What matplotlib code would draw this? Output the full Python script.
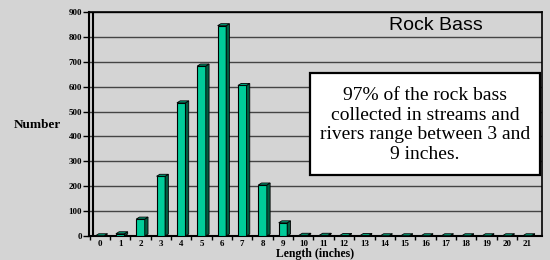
import matplotlib.pyplot as plt
from matplotlib.patches import Polygon, Rectangle

# lengths in inches and number of rock bass caught
lengths = list(range(22))
counts = [1, 9, 68, 240, 535, 683, 845, 605, 205, 53, 3, 3, 2, 2, 1, 1, 1, 1, 1, 1, 1, 1]
y_ticks = list(range(0, 1000, 100))
note_lines = ["97% of the rock bass", "collected in streams and",
              "rivers range between 3 and", "9 inches."]

BG = "#d4d4d4"
FACE = "#00cc99"
SIDE = "#005c40"
TOP = "#00a078"

fig = plt.figure(figsize=(5.5, 2.6), dpi=100, facecolor=BG)
ax = fig.add_axes([89 / 550, 24 / 260, 453 / 550, 224 / 260])
ax.set_facecolor(BG)
ax.set_xlim(-0.53, 21.73)
ax.set_ylim(0, 900)

# gridlines
for y in y_ticks[1:]:
    ax.axhline(y, color="#444444" if y < 900 else "#111111", lw=1.0, zorder=1)

w = 0.42
dx, dy = 0.16, 8
ax.bar(lengths, counts, width=w, color=FACE, edgecolor="black", lw=0.8, zorder=3)
for x, c in zip(lengths, counts):
    if c <= 0:
        continue
    r = x + w / 2
    l = x - w / 2
    side = Polygon([(r, 0), (r + dx, dy), (r + dx, c + dy), (r, c)],
                   closed=True, fc=SIDE, ec="black", lw=0.6, zorder=3)
    top = Polygon([(l, c), (l + dx, c + dy), (r + dx, c + dy), (r, c)],
                  closed=True, fc=TOP, ec="black", lw=0.6, zorder=3)
    ax.add_patch(side)
    ax.add_patch(top)

# left wall (double line)
ax.axvline(-0.33, color="black", lw=1.5, zorder=4)
for s in ["left", "right", "top", "bottom"]:
    ax.spines[s].set_color("black")
ax.spines["left"].set_linewidth(1.5)
ax.spines["bottom"].set_linewidth(1.5)
ax.spines["right"].set_linewidth(1.2)
ax.spines["top"].set_linewidth(1.2)

tick_font = dict(family="Liberation Serif", weight="bold", size=6.5)
ax.set_yticks(y_ticks)
ax.set_yticklabels([str(v) for v in y_ticks], fontdict=tick_font)
ax.tick_params(axis="y", direction="out", length=4, width=1, pad=1)

ax.set_xticks([i - 0.5 for i in lengths])
ax.set_xticklabels([])
ax.tick_params(axis="x", which="major", direction="out", length=3, width=1)
ax.set_xticks(lengths, minor=True)
ax.set_xticklabels([str(v) for v in lengths], minor=True, fontdict=tick_font)
ax.tick_params(axis="x", which="minor", length=0, pad=3)

fig.text(37 / 550, 1 - 125 / 260, "Number", ha="center", va="center",
         family="Liberation Serif", weight="bold", size=9.5)
fig.text(315 / 550, 1 - 253.5 / 260, "Length (inches)", ha="center", va="center",
         family="Liberation Serif", weight="bold", size=8.5)
fig.text(436 / 550, 1 - 25 / 260, "Rock Bass", ha="center", va="center",
         family="Liberation Sans", size=14)

box = Rectangle((310 / 550, 1 - 175 / 260), 230 / 550, 102 / 260,
                transform=fig.transFigure, fc="white", ec="black", lw=1.6, zorder=5)
fig.patches.append(box)
fig.text(425 / 550, 1 - 125 / 260, "\n".join(note_lines), ha="center", va="center",
         family="Liberation Serif", size=14, linespacing=1.22, zorder=6)

fig.savefig("out.png", dpi=100, facecolor=BG)
